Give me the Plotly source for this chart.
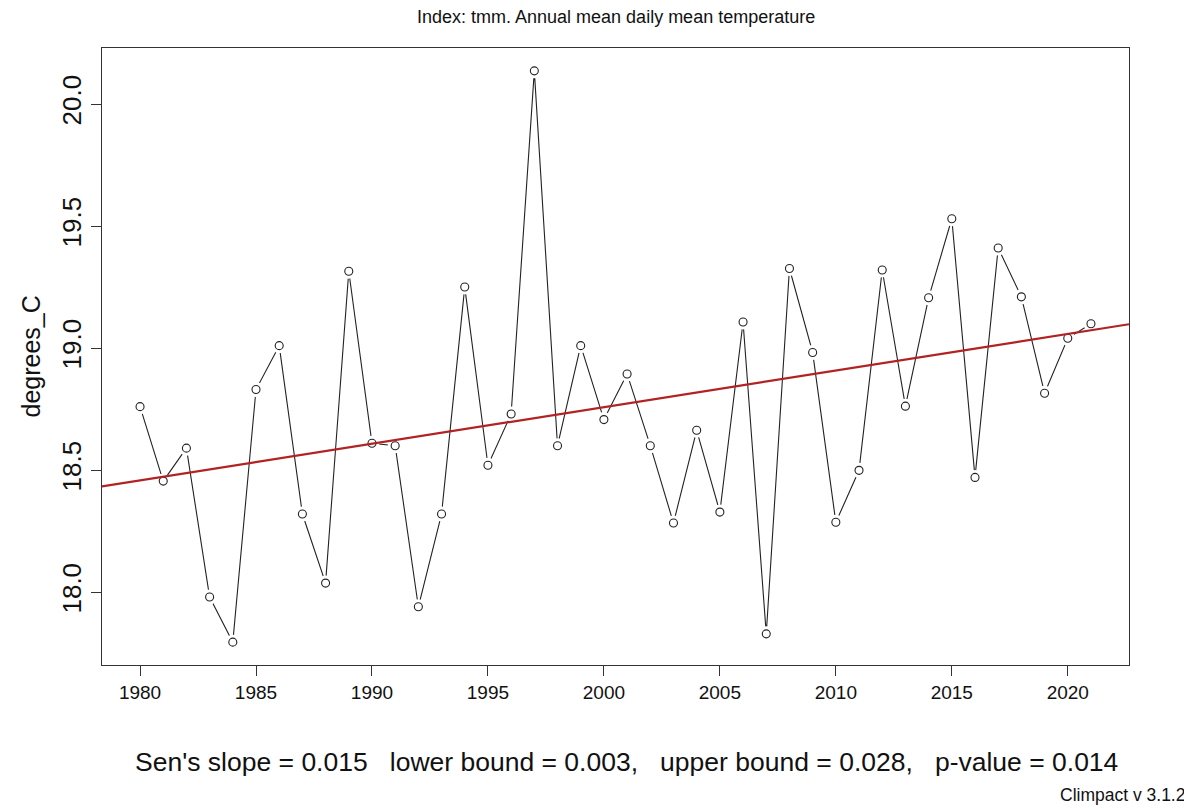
import plotly.graph_objects as go

years = list(range(1980, 2022))
tmm = [18.76, 18.455, 18.59, 17.98, 17.795, 18.83, 19.01, 18.32, 18.037, 19.315,
       18.61, 18.60, 17.94, 18.32, 19.25, 18.52, 18.73, 20.136, 18.60, 19.01,
       18.707, 18.894, 18.60, 18.283, 18.663, 18.328, 19.107, 17.829, 19.326, 18.982,
       18.286, 18.499, 19.32, 18.762, 19.206, 19.53, 18.47, 19.41, 19.21, 18.815,
       19.04, 19.10]

sen_slope = 0.015
trend_at_1980 = 18.458
x_ticks = [1980, 1985, 1990, 1995, 2000, 2005, 2010, 2015, 2020]
y_ticks = [18.0, 18.5, 19.0, 19.5, 20.0]
y_tick_labels = ["18.0", "18.5", "19.0", "19.5", "20.0"]

title = "Index: tmm. Annual mean daily mean temperature"
ylabel = "degrees_C"
stats_text = "Sen's slope = 0.015   lower bound = 0.003,   upper bound = 0.028,   p-value = 0.014"
credit = "Climpact v 3.1.2"

# R-style 4% axis extension
xpad = 0.04 * (max(years) - min(years))
ypad = 0.04 * (max(tmm) - min(tmm))
xr = [min(years) - xpad, max(years) + xpad]
yr = [min(tmm) - ypad, max(tmm) + ypad]

trend_x = xr
trend_y = [trend_at_1980 + sen_slope * (x - 1980) for x in trend_x]

FONT = "Liberation Sans, Arial, Helvetica, sans-serif"

fig = go.Figure()
fig.add_trace(go.Scatter(x=years, y=tmm, mode="lines",
                         line=dict(color="#222222", width=1.1), hoverinfo="skip"))
fig.add_trace(go.Scatter(x=years, y=tmm, mode="markers",
                         marker=dict(symbol="circle", size=15, color="white",
                                     line=dict(width=0)), hoverinfo="skip"))
fig.add_trace(go.Scatter(x=years, y=tmm, mode="markers",
                         marker=dict(symbol="circle-open", size=8, color="#222222",
                                     line=dict(width=1.1))))
fig.add_trace(go.Scatter(x=trend_x, y=trend_y, mode="lines",
                         line=dict(color="#b22222", width=2.2), hoverinfo="skip"))

fig.update_layout(
    width=1184, height=801,
    margin=dict(l=94, r=63, t=40, b=144),
    paper_bgcolor="white", plot_bgcolor="white",
    showlegend=False,
    font=dict(family=FONT, color="#000000"),
    xaxis=dict(range=xr, tickvals=x_ticks, ticks="outside", ticklen=10,
               tickcolor="#333333", tickwidth=1, showgrid=False, zeroline=False,
               showline=True, linecolor="#333333", linewidth=1.2, mirror=True,
               tickfont=dict(size=19, family=FONT, color="#111111")),
    yaxis=dict(range=yr, tickvals=y_ticks, ticktext=y_tick_labels, ticks="outside",
               ticklen=10, tickcolor="#333333", tickwidth=1, showgrid=False,
               zeroline=False, showline=True, linecolor="#333333", linewidth=1.2,
               mirror=True, tickangle=-90,
               tickfont=dict(size=26, family=FONT, color="#111111")),
    annotations=[
        dict(text=title, xref="paper", yref="paper", x=0.5, y=1, yshift=31,
             xanchor="center", yanchor="middle", showarrow=False,
             font=dict(size=18, family=FONT, color="#111111")),
        dict(text=ylabel, xref="paper", yref="paper", x=0, y=0.5, xshift=-72,
             xanchor="center", yanchor="middle", textangle=-90, showarrow=False,
             font=dict(size=25, family=FONT, color="#111111")),
        dict(text=stats_text, xref="paper", yref="paper", x=0.5, y=0, xshift=11,
             yshift=-97, xanchor="center", yanchor="middle", showarrow=False,
             font=dict(size=26.5, family=FONT, color="#111111")),
        dict(text=credit, xref="paper", yref="paper", x=1, y=0, xshift=58, yshift=-130,
             xanchor="right", yanchor="middle", showarrow=False,
             font=dict(size=17.5, family=FONT, color="#111111")),
    ],
)

fig.write_html("out.html")
